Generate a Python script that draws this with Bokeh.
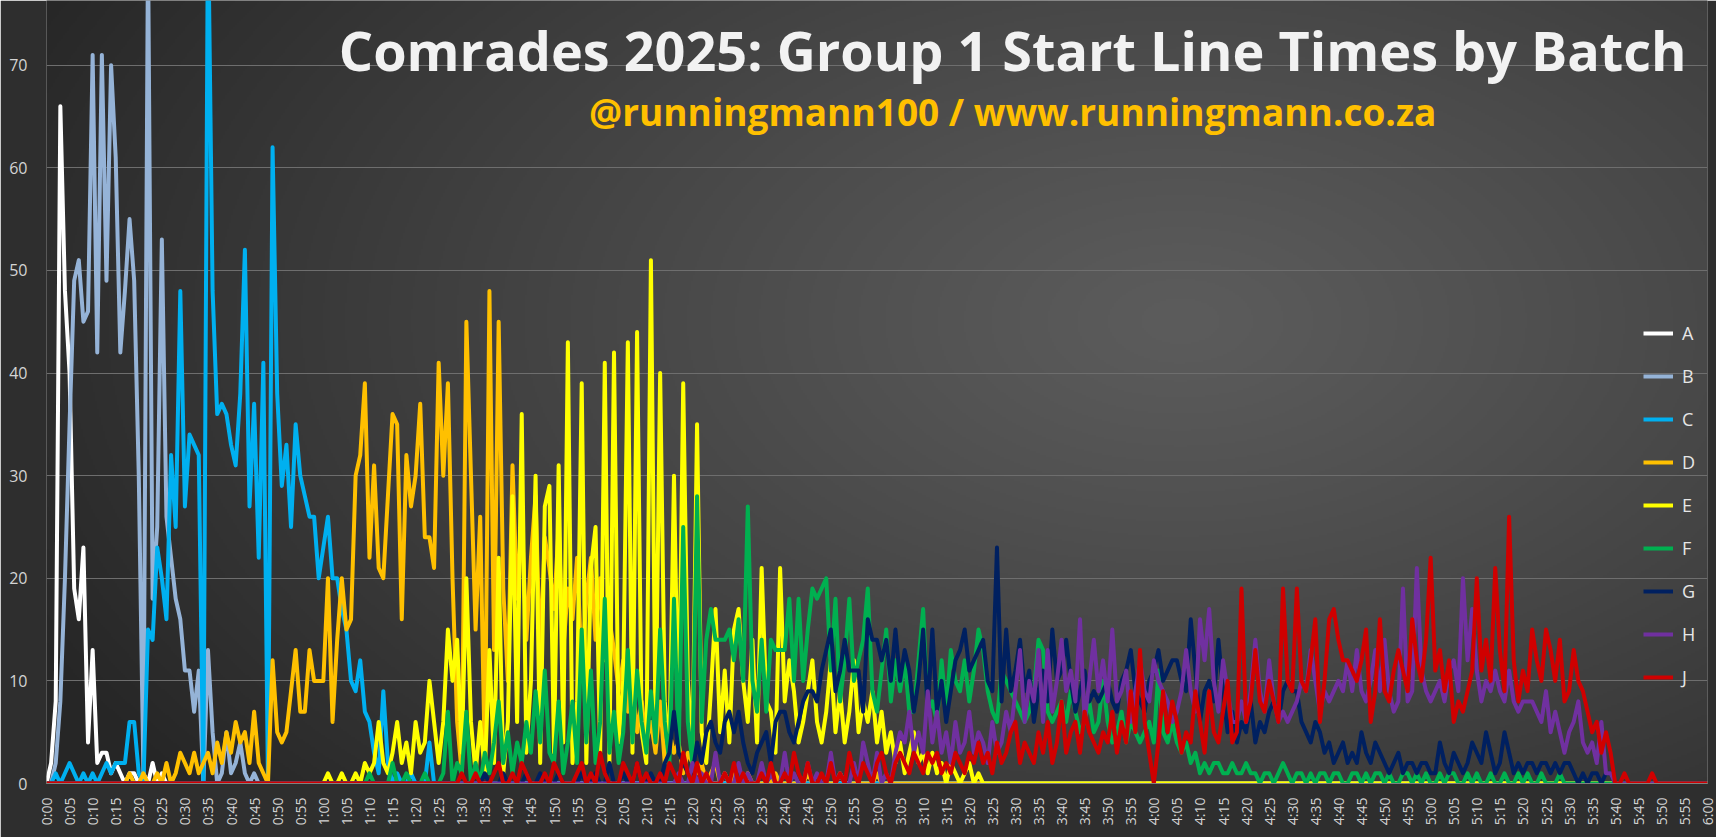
import numpy as np
from bokeh.plotting import figure
from bokeh.models import Range1d, FixedTicker, Label, Legend, LegendItem
from bokeh.embed import file_html
from bokeh.resources import INLINE

# ---------------- data (people crossing the start line per minute) ----------------
TOTAL_MINUTES = 360
x_ticks = list(range(0, TOTAL_MINUTES + 1, 5))
x_tick_labels = ["%d:%02d" % (t // 60, t % 60) for t in x_ticks]
y_ticks = [0, 10, 20, 30, 40, 50, 60, 70]

batch_names = ["A", "B", "C", "D", "E", "F", "G", "H", "J"]
batch_colors = ["#FFFFFF", "#95B3D7", "#00B0F0", "#FFC000", "#FFFF00",
                "#00B050", "#002060", "#7030A0", "#D00000"]

A_start = 0
A_vals = [0, 2, 8, 66, 48, 40, 19, 16, 23, 4, 13, 2, 3, 3, 1, 2, 1, 0, 1, 1, 0, 1, 0, 2, 0, 1, 0]

B_start = 0
B_vals = [0, 0, 2, 8, 20, 35, 49, 51, 45, 46, 71, 42, 71, 49, 70, 61, 42, 48, 55, 49,
          30, 1, 82, 18, 25, 53, 26, 22, 18, 16, 11, 11, 7, 11, 0, 13, 5, 0, 1, 5,
          1, 2, 4, 1, 0, 1, 0]

C_start = 0
C_vals = [0, 0, 1, 0, 1, 2, 1, 0, 1, 0, 1, 0, 1, 2, 1, 2, 2, 2, 6, 6, 1, 0,
          15, 14, 23, 20, 16, 32, 25, 48, 27, 34, 33, 32, 0, 85, 48, 36, 37, 36,
          33, 31, 38, 52, 27, 37, 22, 41, 0, 62, 38, 29, 33, 25, 35, 30, 28, 26,
          26, 20, 23, 26, 20, 20, 17, 15, 10, 9, 12, 7, 6, 3, 1, 9, 2, 0, 1, 0,
          0, 1, 0, 0, 0, 4, 0]

D_start = 18
D_vals = [1, 0, 0, 1, 0, 0, 1, 0, 2, 0, 1, 3, 2, 1, 3, 1, 2, 3, 1, 4, 2, 5, 3, 6, 4, 5, 2, 7, 2, 1,
          0, 12, 5, 4, 5, 9, 13, 7, 7, 13, 10, 10, 10, 20, 6, 14, 20, 15, 16, 30,
          32, 39, 22, 31, 21, 20, 28, 36, 35, 16, 32, 27, 30, 37, 24, 24, 21, 41, 30, 39,
          20, 6, 1, 45, 30, 15, 26, 2, 48, 13, 45, 19,
          10, 31, 18, 26, 14, 22, 28, 12, 24, 21, 17, 25, 13, 19, 16, 22, 11, 18, 22, 14,
          20, 12, 16, 13, 9, 12, 7, 10, 5, 8, 4, 6, 3, 8, 2, 5, 3, 4, 1, 3,
          2, 1, 2, 0, 1, 2, 0, 1, 0, 1, 0,
          0, 1, 0, 0, 0, 0, 0, 1, 0, 0, 0, 0, 0, 0, 1, 0, 0, 0, 0, 0, 0, 1, 0, 0,
          0, 0, 0, 0, 0, 1, 0]

E_start = 60
E_vals = [0, 1, 0, 0, 1, 0, 0, 1, 0, 2, 1, 2, 6, 2, 1, 3, 6, 2, 4, 1,
          6, 3, 4, 10, 6, 2, 6, 15, 10, 14, 3, 20, 6, 1, 6, 1, 13, 2, 22, 1,
          6, 28, 6, 36, 3, 10, 30, 2, 27, 29, 3, 31, 4, 43, 2, 8, 39, 2, 21, 25,
          3, 41, 2, 42, 4, 10, 43, 3, 44, 5, 2, 51, 5, 40, 8, 3, 30, 4, 39, 10,
          3, 35, 5, 2,
          9, 17, 5, 11, 4, 15, 17, 10, 6, 14, 4, 21, 8, 7, 3, 21, 8, 12, 9, 4,
          6, 9, 12, 6, 4, 7, 12, 5, 9, 4, 7, 12, 5, 8, 6, 9, 4, 7, 3, 5,
          2, 4, 1, 3, 5, 2, 3, 1, 3, 1, 2, 0, 2, 1, 0, 1, 2, 0, 1, 0]

F_start = 68
F_vals = [0, 0, 1, 0, 0, 0, 0, 2, 0, 0, 1, 0, 0, 0, 1, 0, 0, 0, 1, 7, 0, 2, 1, 7,
          0, 2, 0, 3, 1, 4, 8, 2, 5, 1, 4, 2, 6, 3, 9, 4, 11, 3, 2, 8,
          1, 4, 8, 2, 15, 4, 11, 2, 6, 18, 3, 7, 2, 5, 13, 4, 11, 6, 3, 9,
          4, 15, 6, 2, 18, 3, 25, 6, 2, 28, 6, 14,
          17, 14, 14, 14, 15, 12, 16, 10, 27, 10, 7, 14, 7, 14, 13, 13, 13, 18, 10, 18,
          10, 15, 19, 18, 19, 20, 11, 18, 8, 12, 18, 10, 12, 14, 19, 9, 7, 11, 15, 8,
          12, 9, 12, 7, 7, 12, 17, 7, 8, 6, 12, 7, 13, 10, 9, 12,
          8, 11, 15, 13, 9, 7, 6, 11, 10, 9, 8, 7, 6, 7, 9, 14, 13, 7, 6, 7,
          8, 6, 9, 7, 5, 6, 8, 5, 6, 10, 6, 4, 5, 7, 4, 6, 5, 4, 5, 6,
          4, 11, 5, 4, 6, 4, 3, 4, 2, 3, 1, 2, 1, 2, 2, 1, 1, 2, 1, 1,
          2, 1, 1, 0, 1, 1, 0, 1, 2, 1, 0, 1, 1, 0, 1, 0, 1, 1, 0, 1,
          1, 0, 0, 1, 1, 0, 1, 0, 1, 1, 0, 1, 0, 0, 1, 1, 0, 1, 0, 1,
          0, 0, 1, 0, 1, 1, 0, 0, 1, 0, 1, 0, 0, 1, 0, 0, 1, 0, 0, 1,
          0, 1, 0, 0, 1, 0, 0, 0, 1, 0, 0]

G_start = 95
G_vals = [1, 0, 0, 0, 1, 0, 0, 0, 0, 1, 0, 0, 1, 0, 0, 0, 1, 0, 0, 0,
          0, 1, 0, 0, 1, 0, 0, 2, 0, 0, 1, 0, 0, 2, 0, 0, 1, 0, 0, 2, 3,
          7, 3, 2, 1, 1, 4, 2, 5, 6, 4, 3, 6, 7, 5, 7, 4, 2, 1, 3, 4,
          5, 2, 6, 7, 7, 5, 4, 6, 8, 9, 9, 8, 11, 13, 15, 9, 11, 14, 11, 11,
          11, 7, 16, 14, 14, 12, 14, 10, 15, 10, 13, 11, 7, 10, 15, 7, 15, 7, 10, 6,
          9, 12, 13, 15,
          11, 12, 13, 14, 10, 9, 23, 8, 15, 9, 11, 14, 9, 11, 6, 9, 11, 8, 15, 10,
          11, 14, 10, 7, 9, 11, 8, 9, 8, 9, 10, 8, 7, 10, 11, 13, 9, 8, 7, 10,
          11, 13, 10, 11, 12, 12, 10, 9, 16, 11, 6, 9, 10, 8, 14, 9, 5, 7, 4, 6,
          5, 8, 4, 6, 5, 7, 8, 6, 9, 10, 9, 9, 6, 5, 4, 6, 5, 3, 4, 2,
          3, 4, 2, 3, 2, 5, 3, 2, 4, 3, 2, 1, 2, 3, 1, 2, 2, 1, 2, 2,
          1, 1, 4, 2, 1, 3, 2, 1, 2, 4, 3, 2, 5, 3, 1, 2, 5, 3, 1, 2,
          1, 2, 2, 1, 2, 2, 1, 2, 1, 2, 2, 1, 0, 1, 0, 1, 1, 0, 1, 1, 0]

H_start = 137
H_vals = [1, 0, 0, 2, 0, 1, 0, 0, 3, 0, 1, 0, 0, 2, 0, 1, 0, 0, 2, 0,
          1, 0, 0, 3, 0, 1, 0, 0, 2, 0, 1, 0, 0, 3, 0, 1, 0, 0, 2, 0,
          4, 2, 0, 3, 0, 1, 0, 3, 5, 4, 7, 3, 5, 3, 9, 4, 7, 3, 5, 2,
          6, 3, 4, 7, 3, 5, 4, 2, 6, 3, 4, 7, 5,
          9, 13, 6, 10, 8, 13, 6, 13, 7, 10, 14, 9, 11, 8, 16, 6, 10, 14, 9, 12,
          8, 15, 8, 9, 11, 6, 9, 12, 9, 8, 12, 10, 9, 8, 6, 7, 9, 13, 9, 7,
          16, 12, 17, 10, 7, 12, 9, 6, 6, 8, 6, 9, 14, 9, 7, 12, 8, 6, 7, 6,
          7, 8, 10, 9, 13, 10, 7, 9, 8, 9, 10, 9, 12, 9, 13, 9, 8, 10, 13, 9,
          14, 9, 7, 8, 19, 8, 9, 21, 11, 9, 8, 9, 10, 8, 11, 12, 9, 20, 12, 17,
          11, 8, 10, 9, 11, 9, 8, 11, 8, 7, 8, 8, 8, 7, 6, 9, 5, 7, 5, 3,
          5, 6, 8, 4, 3, 4, 2, 6, 1, 1, 0]

J_start = 90
J_vals = [1, 0, 0, 1, 0, 0, 0, 1, 2, 0, 0, 1, 0, 2, 1, 0, 0, 0, 1, 0,
          2, 1, 0, 0, 0, 1, 2, 0, 1, 0, 3, 1, 0, 0, 0, 2, 1, 0, 2, 0,
          1, 0, 0, 1, 0, 2, 1, 0, 3, 1, 0, 2, 0, 1, 0, 0, 0, 1, 0, 2,
          0, 1, 0, 0, 0, 1, 0, 2, 0, 0, 1, 0, 3, 1, 0, 2, 0, 0, 1, 0,
          2, 0, 1, 0, 3, 1, 0, 2, 1, 0, 2, 3, 1, 0, 2, 3, 2, 1, 3, 2,
          1, 3, 2, 3, 1, 2, 1, 3, 2, 1, 3, 2, 4, 2, 3, 1, 4, 2, 3, 5,
          6, 2, 4, 3, 2, 5, 3, 6, 2, 4, 8, 3, 5, 6, 3, 7, 5, 4, 3, 5,
          4, 7, 3, 6, 4, 9, 5, 13, 6, 3, 0, 4, 9, 5, 8, 6, 3, 5, 4, 9,
          6, 3, 9, 5, 4, 7, 10, 4, 5, 19, 6, 8, 13, 8, 7, 10, 8, 6, 19, 10,
          9, 19, 10, 9, 12, 16, 6, 10, 16, 17, 14, 12, 12, 11, 10, 12, 15, 6, 9, 16,
          9, 8, 11, 13, 11, 9, 16, 12, 10, 14, 22, 11, 13, 9, 12, 6, 8, 7, 9, 11,
          20, 11, 14, 10, 21, 13, 9, 26, 12, 8, 11, 9, 15, 12, 10, 15, 13, 10, 14, 8,
          9, 13, 10, 9, 7, 5, 6, 3, 5, 3, 0, 0, 1, 0, 0, 0, 0, 0, 1, 0]

starts = [A_start, B_start, C_start, D_start, E_start, F_start, G_start, H_start, J_start]
values = [A_vals, B_vals, C_vals, D_vals, E_vals, F_vals, G_vals, H_vals, J_vals]

minutes = list(range(TOTAL_MINUTES + 1))


def full_series(start, vals):
    arr = [0] * (TOTAL_MINUTES + 1)
    for i, v in enumerate(vals):
        if start + i <= TOTAL_MINUTES:
            arr[start + i] = v
    return arr


# ---------------- figure ----------------
Y_TOP = 76.3
p = figure(width=1716, height=837, x_range=Range1d(0, TOTAL_MINUTES), y_range=Range1d(0, Y_TOP),
           output_backend="svg", toolbar_location=None,
           min_border_left=46, min_border_right=9, min_border_top=0, min_border_bottom=54,
           background_fill_color="#3c3c3c", border_fill_color="#2e2e2e",
           outline_line_color=None)

# radial background gradient (decoration only)
W, H = 830, 392
xs = np.linspace(46, 1707, W)
ys = np.linspace(783, 0, H)  # row 0 = bottom
X, Y = np.meshgrid(xs, ys)
d = np.sqrt(((X - 1180) / 1200.0) ** 2 + ((Y - 320) / 700.0) ** 2)
c = np.clip(92 - 50 * d ** 1.15, 38, 255).astype(np.uint8)
img = np.empty((H, W), dtype=np.uint32)
view = img.view(dtype=np.uint8).reshape((H, W, 4))
view[:, :, 0] = c
view[:, :, 1] = c
view[:, :, 2] = c
view[:, :, 3] = 255
p.image_rgba(image=[img], x=0, y=0, dw=TOTAL_MINUTES, dh=Y_TOP, level="image")

# axes
p.xgrid.visible = False
p.ygrid.grid_line_color = "#6e6e6e"
p.ygrid.grid_line_width = 1

p.yaxis.ticker = FixedTicker(ticks=y_ticks)
p.yaxis.axis_line_color = None
p.yaxis.major_tick_line_color = None
p.yaxis.minor_tick_line_color = None
p.yaxis.major_tick_out = 0
p.yaxis.major_tick_in = 0
p.yaxis.major_label_standoff = 19
p.yaxis.major_label_text_color = "#d4d4d4"
p.yaxis.major_label_text_font = "Open Sans"
p.yaxis.major_label_text_font_size = "16px"

p.xaxis.ticker = FixedTicker(ticks=x_ticks)
p.xaxis.major_label_overrides = dict(zip(x_ticks, x_tick_labels))
p.xaxis.major_label_orientation = np.pi / 2
p.xaxis.axis_line_color = "#808080"
p.xaxis.major_tick_line_color = None
p.xaxis.minor_tick_line_color = None
p.xaxis.major_tick_out = 0
p.xaxis.major_tick_in = 0
p.xaxis.major_label_standoff = 14
p.xaxis.major_label_text_color = "#d4d4d4"
p.xaxis.major_label_text_font = "Open Sans"
p.xaxis.major_label_text_font_size = "14px"

# lines
items = []
for name, color, st, vals in zip(batch_names, batch_colors, starts, values):
    r = p.line(x=minutes, y=full_series(st, vals), line_color=color, line_width=4,
               line_join="round")
    items.append(LegendItem(label=name, renderers=[r]))

legend = Legend(items=items, location=(1597, 94), orientation="vertical",
                glyph_width=30, glyph_height=24, label_height=24, spacing=19,
                padding=0, margin=0, label_standoff=9,
                background_fill_alpha=0, border_line_alpha=0,
                label_text_color="#e6e6e6", label_text_font="Open Sans",
                label_text_font_size="18px")
p.add_layout(legend)

# titles
p.add_layout(Label(x=209.4, y=71.5, text="Comrades 2025: Group 1 Start Line Times by Batch",
                   text_align="center", text_baseline="alphabetic",
                   text_font="Open Sans", text_font_style="bold", text_font_size="54px",
                   text_color="#f2f2f2"))
p.add_layout(Label(x=209.4, y=65.5, text="@runningmann100 / www.runningmann.co.za",
                   text_align="center", text_baseline="alphabetic",
                   text_font="Open Sans", text_font_style="bold", text_font_size="37px",
                   text_color="#FFC000"))

open("out.html", "w").write(file_html(p, INLINE))
